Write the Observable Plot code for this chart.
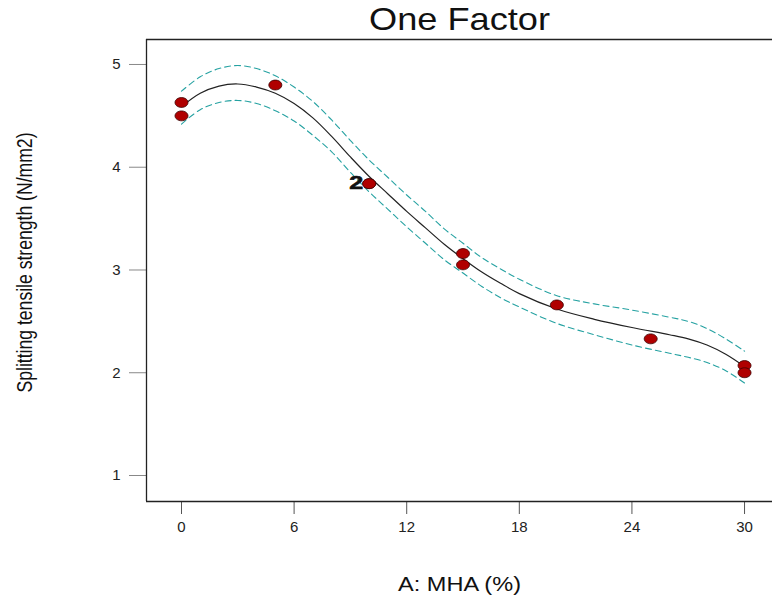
<!DOCTYPE html>
<html>
<head>
<meta charset="utf-8">
<script src="https://cdn.jsdelivr.net/npm/d3@7"></script>
<script src="https://cdn.jsdelivr.net/npm/@observablehq/plot@0.6"></script>
<style>
  html, body { margin: 0; padding: 0; background: white; }
</style>
</head>
<body>
<div id="chart"></div>
<script>
// Design points (A: MHA %) and measured response
const mha      = [0, 0, 5, 10, 10, 15, 15, 20, 25, 30, 30];
const strength = [4.63, 4.50, 4.80, 3.84, 3.84, 3.16, 3.05, 2.66, 2.33, 2.07, 2.00];

// Replicate label
const repX = [10];
const repY = [3.84];
const repLabel = ["2"];

// Fitted model curve and confidence band
const fitX   = [0, 1, 2, 3, 4, 5, 6, 7, 8, 9, 10, 11, 12, 13, 14, 15, 16, 17, 18, 20, 22, 24, 26, 27, 28, 29, 30];
const fitY   = [4.59, 4.72, 4.79, 4.81, 4.78, 4.72, 4.62, 4.48, 4.30, 4.10, 3.91, 3.74, 3.57, 3.41, 3.25, 3.11, 2.98, 2.87, 2.77, 2.62, 2.52, 2.44, 2.37, 2.33, 2.27, 2.18, 2.06];
const upperY = [4.74, 4.88, 4.96, 4.99, 4.96, 4.89, 4.78, 4.64, 4.46, 4.26, 4.07, 3.90, 3.73, 3.57, 3.40, 3.26, 3.12, 3.01, 2.91, 2.75, 2.67, 2.61, 2.54, 2.50, 2.43, 2.33, 2.21];
const lowerY = [4.42, 4.56, 4.63, 4.65, 4.62, 4.55, 4.45, 4.31, 4.15, 3.95, 3.76, 3.59, 3.42, 3.26, 3.10, 2.97, 2.84, 2.73, 2.64, 2.48, 2.37, 2.27, 2.19, 2.15, 2.10, 2.02, 1.90];

// Axes
const xTicks = [0, 6, 12, 18, 24, 30];
const yTicks = [1, 2, 3, 4, 5];
const xDomain = [-1.865, 31.49];
const yDomain = [0.747, 5.243];

const titleText = "One Factor";
const xLabel = "A: MHA (%)";
const yLabel = "Splitting tensile strength (N/mm2)";

const points = mha.map((x, i) => ({x, y: strength[i]}));
const fit = fitX.map((x, i) => ({x, fit: fitY[i], upper: upperY[i], lower: lowerY[i]}));
const reps = repX.map((x, i) => ({x, y: repY[i], label: repLabel[i]}));

const ellipse = {
  draw(ctx, size) {
    const r = Math.sqrt(size / Math.PI);
    const rx = r, ry = r * 0.76, k = 0.5523;
    ctx.moveTo(rx, 0);
    ctx.bezierCurveTo(rx, ry * k, rx * k, ry, 0, ry);
    ctx.bezierCurveTo(-rx * k, ry, -rx, ry * k, -rx, 0);
    ctx.bezierCurveTo(-rx, -ry * k, -rx * k, -ry, 0, -ry);
    ctx.bezierCurveTo(rx * k, -ry, rx, -ry * k, rx, 0);
    ctx.closePath();
  }
};

const teal = "#26a2a2";
const font = "'Liberation Sans', Arial, sans-serif";

const chart = Plot.plot({
  width: 772,
  height: 600,
  marginLeft: 146,
  marginRight: 0,
  marginTop: 39,
  marginBottom: 99,
  style: {fontFamily: font, fontSize: "15px", background: "white", overflow: "visible"},
  x: {domain: xDomain},
  y: {domain: yDomain},
  marks: [
    Plot.axisX({ticks: xTicks, tickFormat: d => String(d), tickSize: 13, tickPadding: 7, stroke: "#555", fill: "#222", label: null, fontSize: 15}),
    Plot.axisY({ticks: yTicks, tickFormat: d => String(d), tickSize: 17, tickPadding: 9, stroke: "#888", fill: "#222", label: null, fontSize: 15}),
    Plot.ruleX([xDomain[0]], {stroke: "#222", strokeWidth: 1.3}),
    Plot.ruleY([yDomain[0], yDomain[1]], {stroke: "#222", strokeWidth: 1.3}),
    Plot.line(fit, {x: "x", y: "upper", stroke: teal, strokeWidth: 1.1, strokeDasharray: "6,4", curve: "catmull-rom"}),
    Plot.line(fit, {x: "x", y: "lower", stroke: teal, strokeWidth: 1.1, strokeDasharray: "6,4", curve: "catmull-rom"}),
    Plot.line(fit, {x: "x", y: "fit", stroke: "#222", strokeWidth: 1.2, curve: "catmull-rom"}),
    Plot.dot(points, {x: "x", y: "y", r: 6.5, symbol: ellipse, fill: "#b00000", stroke: "#3a0000", strokeWidth: 0.8}),
    Plot.text(reps, {x: "x", y: "y", text: "label", textAnchor: "end", lineAnchor: "middle", dx: -6, dy: -1, fontSize: 19, fontWeight: "bold", fill: "#111", stroke: "#111", strokeWidth: 0.6}),
    Plot.text([titleText], {frameAnchor: "top", textAnchor: "middle", lineAnchor: "middle", dy: -19.5, fontSize: 32, fill: "#111"}),
    Plot.text([xLabel], {frameAnchor: "bottom", textAnchor: "middle", lineAnchor: "middle", dy: 82.5, fontSize: 21, fill: "#111"}),
    Plot.text([yLabel], {frameAnchor: "left", textAnchor: "middle", lineAnchor: "middle", dx: -122, dy: -8, rotate: -90, fontSize: 22, fill: "#111"})
  ]
});

// Stretch texts to the reference's proportions
const lengths = new Map([[titleText, 181], [xLabel, 123], [yLabel, 260], ["2", 14]]);
d3.select(chart).selectAll("text").each(function () {
  const t = this.textContent;
  if (lengths.has(t) && !this.closest("[aria-label*='axis']")) {
    this.setAttribute("textLength", lengths.get(t));
    this.setAttribute("lengthAdjust", "spacingAndGlyphs");
  }
});

document.getElementById("chart").appendChild(chart);
</script>
</body>
</html>
